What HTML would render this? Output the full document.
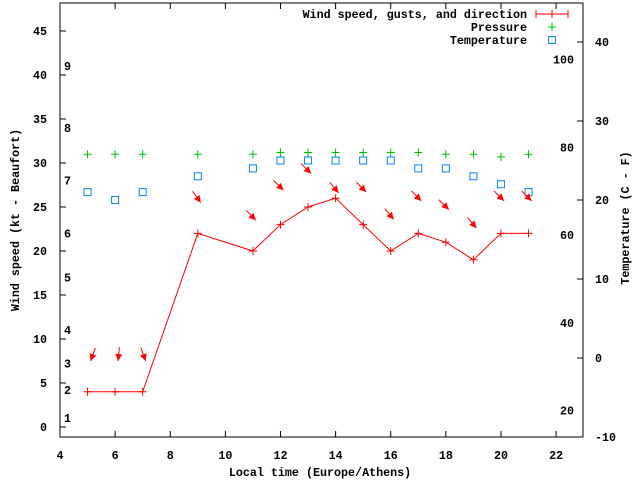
<!DOCTYPE html>
<html><head><meta charset="utf-8"><style>
html,body{margin:0;padding:0;background:#fff}
svg text{font-family:"Liberation Mono",monospace;font-weight:bold;font-size:11.7px;fill:#000}
</style></head><body>
<svg id="chart" width="640" height="480" viewBox="0 0 640 480" xmlns="http://www.w3.org/2000/svg">
<g id="axes"></g>
<g id="marks"></g>
<g id="legend">
<text x="527" y="18" text-anchor="end">Wind speed, gusts, and direction</text>
<line x1="536" y1="14" x2="568" y2="14" stroke="#f00"/>
<line x1="536" y1="10" x2="536" y2="18" stroke="#f00"/><line x1="568" y1="10" x2="568" y2="18" stroke="#f00"/><line x1="552" y1="10" x2="552" y2="18" stroke="#f00"/>
<text x="527" y="31" text-anchor="end">Pressure</text>
<path d="M548 27h8M552 23v8" stroke="#0b0"/>
<text x="527" y="44" text-anchor="end">Temperature</text>
<rect x="548.5" y="36.5" width="7" height="7" fill="none" stroke="#0a7ff0"/>
</g>
<text x="320" y="476" text-anchor="middle">Local time (Europe/Athens)</text>
<text transform="translate(19,220) rotate(-90)" text-anchor="middle">Wind speed (kt - Beaufort)</text>
<text transform="translate(629,218) rotate(-90)" text-anchor="middle">Temperature (C - F)</text>
</svg>
<script>
const hours=[5,6,7,9,11,12,13,14,15,16,17,18,19,20,21];
const windKt=[4,4,4,22,20,23,25,26,23,20,22,21,19,22,22];
const pressure=[31,31,31,31,31,31.2,31.2,31.2,31.2,31.2,31.2,31,31,30.7,31];
const tempC=[21,20,21,23,24,25,25,25,25,25,24,24,23,22,21];
const arrowVal=[7.5,7.5,7.5,25.5,23.5,26.9,28.8,26.6,26.7,23.6,25.7,24.7,22.6,25.7,25.7];
const arrowDir=[-20,-5,20,36,45,45,45,40,45,40,45,45,40,45,45];
const xTicks=[4,6,8,10,12,14,16,18,20,22];
const yTicks=[0,5,10,15,20,25,30,35,40,45];
const y2Ticks=[-10,0,10,20,30,40];
const fTicks=[20,40,60,80,100];
const bft=[[1,1],[2,4.2],[3,7.2],[4,11],[5,17],[6,22],[7,28],[8,34],[9,41]];
const X=h=>60+(h-4)*27.56;
const Y=v=>427-v*8.8;
const YC=c=>437-(c+10)*7.9;
const NS="http://www.w3.org/2000/svg";
function mk(parent,tag,at){const e=document.createElementNS(NS,tag);for(const k in at)e.setAttribute(k,at[k]);parent.appendChild(e);return e;}
const ax=document.getElementById('axes'),mg=document.getElementById('marks');
const frame=mk(ax,'rect',{x:60,y:3,width:523,height:434,fill:'none',stroke:'#000'});


xTicks.forEach(t=>{const x=X(t);
 mk(ax,'line',{x1:x,y1:437,x2:x,y2:431,stroke:'#000'});mk(ax,'line',{x1:x,y1:3,x2:x,y2:9,stroke:'#000'});
 const tx=mk(ax,'text',{x:x,y:459,'text-anchor':'middle'});tx.textContent=t;
 
 });
yTicks.forEach(t=>{const y=Y(t);
 mk(ax,'line',{x1:60,y1:y,x2:66,y2:y,stroke:'#000'});
 const tx=mk(ax,'text',{x:47,y:y+4,'text-anchor':'end'});tx.textContent=t;
 
 });
y2Ticks.forEach(t=>{const y=YC(t);
 mk(ax,'line',{x1:583,y1:y,x2:577,y2:y,stroke:'#000'});
 const tx=mk(ax,'text',{x:595,y:y+4});tx.textContent=t;
 
 });
fTicks.forEach(f=>{const y=YC((f-32)*5/9);
 const tx=mk(ax,'text',{x:574,y:y+4,'text-anchor':'end'});tx.textContent=f;
 
 });
bft.forEach(b=>{const tx=mk(ax,'text',{x:64,y:Y(b[1])+4});tx.textContent=b[0];
 
 });
const pl=mk(mg,'polyline',{points:hours.map((h,i)=>X(h)+','+Y(windKt[i])).join(' '),fill:'none',stroke:'#f00'});


hours.forEach((h,i)=>{const x=X(h),y=Y(windKt[i]);
 const p=mk(mg,'path',{d:`M${x-4} ${y}h8M${x} ${y-4}v8`,stroke:'#f00'});
 
 
 const g=mk(mg,'path',{d:`M${X(h)-4} ${Y(pressure[i])}h8M${X(h)} ${Y(pressure[i])-4}v8`,stroke:'#0b0'});
 
 
 const r=mk(mg,'rect',{x:X(h)-3.5,y:YC(tempC[i])-3.5,width:7,height:7,fill:'none',stroke:'#0a7ff0'});
 
 
 const a=arrowDir[i]*Math.PI/180,tx=X(h)+3,ty=Y(arrowVal[i]);
 const dx=Math.sin(a),dy=Math.cos(a),L=14;
 const ar=mk(mg,'g',{});
 
 
 mk(ar,'line',{x1:tx-dx*L,y1:ty-dy*L,x2:tx,y2:ty,stroke:'#f00'});
 const px=-dy,py=dx;
 mk(ar,'polygon',{points:`${tx},${ty} ${tx-dx*7+px*3.5},${ty-dy*7+py*3.5} ${tx-dx*7-px*3.5},${ty-dy*7-py*3.5}`,fill:'#f00'});
});
</script>
</body></html>
